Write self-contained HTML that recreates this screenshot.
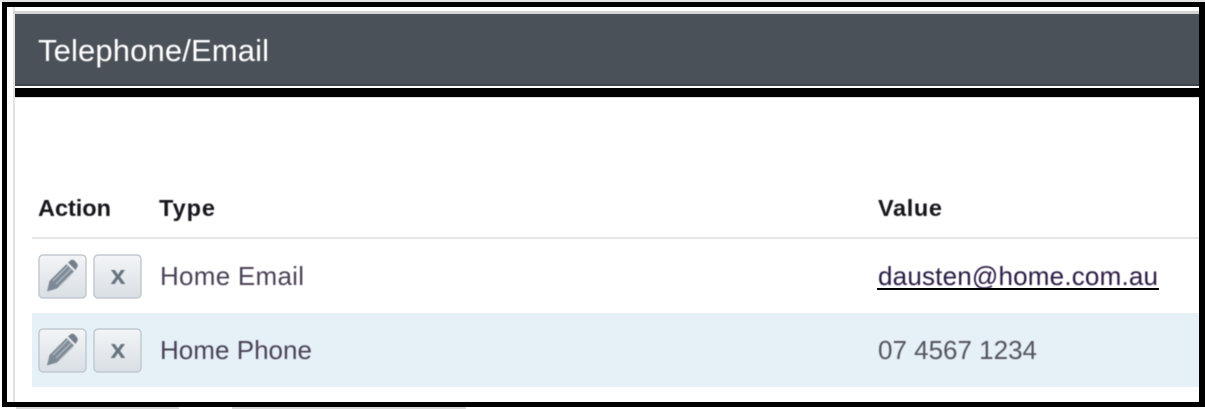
<!DOCTYPE html>
<html>
<head>
<meta charset="utf-8">
<style>
html,body{margin:0;padding:0;background:#fff}
svg{display:block}
text{font-family:"Liberation Sans",sans-serif}
</style>
</head>
<body>
<svg width="1205" height="409" viewBox="0 0 1205 409" xmlns="http://www.w3.org/2000/svg">
<defs>
<linearGradient id="b" x1="0" y1="0" x2="0" y2="1">
<stop offset="0" stop-color="#f3f5f7"/>
<stop offset="1" stop-color="#d9dfe4"/>
</linearGradient>
<filter id="s" x="-5%" y="-20%" width="110%" height="140%"><feGaussianBlur stdDeviation="0.45"/></filter>
<g id="pencil">
<path d="M-15 15.500 L-12.500 5 L4.500 -12 L12 -4.500 L-5 12.500 Z" fill="#7d8995"/>
<path d="M6 -13.500 L9 -16 Q11 -17 13 -15 L15 -12.500 Q16.500 -10.500 15 -8.500 L13.500 -6 Z" fill="#727f8b"/>
<path d="M-9 5 L6 -10 M-6 8 L9 -7 M-3 10.500 L11 -3.500" stroke="#b4bdc5" stroke-width="1.200" fill="none"/>
</g>
</defs>

<rect width="1205" height="409" fill="#fff"/>
<!-- outer scraps -->
<rect x="0" y="0" width="1205" height="2" fill="#e4e4e4"/>
<rect x="16" y="407" width="163" height="2" fill="#d8d8d8"/>
<rect x="232" y="407" width="234" height="2" fill="#d8d8d8"/>

<!-- panel edge -->
<rect x="13" y="7" width="2" height="395" fill="#e2e2e2"/>
<rect x="13" y="11" width="1186" height="3" fill="#d5d5d5"/>

<!-- header -->
<rect x="15" y="14" width="1184" height="72" fill="#4b5158"/>
<rect x="15" y="84" width="1184" height="2" fill="#3f444a"/>
<rect x="15" y="88" width="1184" height="9" fill="#000"/>
<rect x="15" y="97" width="1184" height="1" fill="#dcdcdc"/>
<text x="38" y="61" font-size="31" fill="#fff" textLength="231" lengthAdjust="spacing" filter="url(#s)">Telephone/Email</text>

<!-- table head -->
<g filter="url(#s)">
<text x="38" y="216" font-size="23.500" font-weight="bold" fill="#14141c" textLength="73" lengthAdjust="spacing">Action</text>
<text x="159" y="216" font-size="23.500" font-weight="bold" fill="#14141c" textLength="56" lengthAdjust="spacing">Type</text>
<text x="878" y="216" font-size="23.500" font-weight="bold" fill="#14141c" textLength="64" lengthAdjust="spacing">Value</text>
</g>
<rect x="32" y="237" width="1167" height="2" fill="#e6e6e6"/>

<!-- row 2 background -->
<rect x="32" y="313" width="1167" height="74" fill="#e6f1f7"/>

<!-- row 1 -->
<rect x="39" y="255" width="47" height="43" rx="4" fill="url(#b)" stroke="#c2cad1" stroke-width="1.500"/>
<use href="#pencil" x="62" y="276" filter="url(#s)"/>
<rect x="94" y="255" width="47" height="43" rx="4" fill="url(#b)" stroke="#c2cad1" stroke-width="1.500"/>
<text x="118" y="284" font-size="27" font-weight="bold" fill="#66737f" text-anchor="middle" filter="url(#s)">x</text>
<g filter="url(#s)">
<text x="160" y="285" font-size="26" fill="#4c4358" textLength="144" lengthAdjust="spacing">Home Email</text>
<text x="878" y="285" font-size="26" fill="#2c1a45" textLength="280" lengthAdjust="spacing">dausten@home.com.au</text>
</g>
<rect x="877" y="288" width="282" height="2" fill="#000"/>

<!-- row 2 -->
<rect x="39" y="329" width="47" height="43" rx="4" fill="url(#b)" stroke="#c2cad1" stroke-width="1.500"/>
<use href="#pencil" x="62" y="350" filter="url(#s)"/>
<rect x="94" y="329" width="47" height="43" rx="4" fill="url(#b)" stroke="#c2cad1" stroke-width="1.500"/>
<text x="118" y="358" font-size="27" font-weight="bold" fill="#66737f" text-anchor="middle" filter="url(#s)">x</text>
<g filter="url(#s)">
<text x="160" y="359" font-size="26" fill="#4c4358" textLength="152" lengthAdjust="spacing">Home Phone</text>
<text x="878" y="359" font-size="26" fill="#55555c" textLength="159" lengthAdjust="spacing">07 4567 1234</text>
</g>

<!-- black frame -->
<rect x="2" y="2" width="1203" height="5" fill="#000"/>
<rect x="2" y="2" width="5" height="405" fill="#000"/>
<rect x="1199" y="2" width="6" height="405" fill="#000"/>
<rect x="2" y="402" width="1203" height="5" fill="#000"/>
</svg>
</body>
</html>
